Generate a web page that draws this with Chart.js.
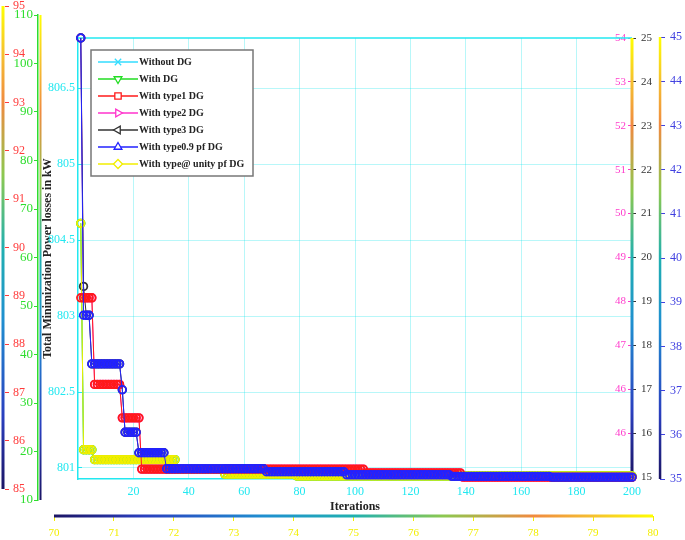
<!DOCTYPE html>
<html lang="en">
<head>
  <meta charset="UTF-8">
  <title>Total Minimization Power losses</title>
  <script src="https://cdn.jsdelivr.net/npm/chart.js"></script>
  <style>
    html, body {
      margin: 0;
      padding: 0;
      background: #fff;
    }
    #chart-box {
      width: 685px;
      height: 540px;
    }
  </style>
</head>
<body>
  <div id="chart-box">
    <canvas id="lossChart" width="685" height="540"></canvas>
  </div>

  <script>
    // ---- data ----
    // each run: [first iteration, loss in kW]; the value holds until the next run starts
    const lastIteration = 200;
    const seriesNames = ['Without DG', 'With DG', 'With type1 DG', 'With type2 DG',
      'With type3 DG', 'With type0.9 pf DG', 'With type@ unity pf DG'];

    const withoutDgRuns = [[1, 804.22], [2, 801.24], [6, 801.11], [36, 800.99], [53, 800.92], [79, 800.895]];
    const withDgRuns = [[1, 804.22], [2, 801.24], [6, 801.11], [36, 800.99], [53, 800.92], [79, 800.895]];
    const type1Runs = [[1, 803.24], [6, 802.10], [16, 801.66], [23, 800.985], [104, 800.935], [139, 800.88]];
    const type2Runs = [[1, 806.66], [2, 803.24], [6, 802.10], [16, 801.66], [23, 800.985], [104, 800.935], [139, 800.88]];
    const type3Runs = [[1, 806.66], [2, 803.39], [3, 803.01], [5, 802.37], [16, 802.03], [17, 801.47], [22, 801.20], [32, 800.99], [68, 800.95], [97, 800.91], [135, 800.89], [171, 800.88]];
    const pf09Runs = [[1, 806.66], [2, 803.01], [5, 802.37], [16, 802.03], [17, 801.47], [22, 801.20], [32, 800.99], [68, 800.95], [97, 800.91], [135, 800.89], [171, 800.88]];
    const unityRuns = [[1, 804.22], [2, 801.24], [6, 801.11], [36, 800.99], [53, 800.92], [79, 800.895]];

    // tick labels
    const iterTicks = [20, 40, 60, 80, 100, 120, 140, 160, 180, 200];
    const lossTickValues = [801, 802, 803, 804, 805, 806];
    const lossTickLabels = ['801', '802.5', '803', '804.5', '805', '806.5'];
    const magentaLabels = ['45', '46', '46', '47', '48', '49', '50', '51', '52', '53', '54'];

    // ---- styles ----
    Chart.defaults.font.family = '"Liberation Serif", "DejaVu Serif", serif';
    Chart.defaults.font.size = 12;

    const seriesColors = ['#33ddff', '#22dd22', '#ff1a1a', '#ff33cc', '#333333', '#2222ff', '#f2ee00'];
    const legendShapes = [
      { style: 'crossRot', rot: 0 },
      { style: 'triangle', rot: 180 },
      { style: 'rect', rot: 0 },
      { style: 'triangle', rot: 90 },
      { style: 'triangle', rot: -90 },
      { style: 'triangle', rot: 0 },
      { style: 'rectRot', rot: 0 }
    ];
    // z-order: lower draws on top (blue, then red, then yellow ...)
    const drawOrder = [6, 5, 1, 4, 3, 0, 2];

    const cyan = '#22e8f0';
    const gridCyan = 'rgba(0, 225, 235, 0.28)';
    const redText = '#ff3b3b';
    const greenText = '#2ede2e';
    const magentaText = '#ff3ccc';
    const blackText = '#333333';
    const blueText = '#4040e0';
    const yellowText = '#f2ee00';

    function expandRuns(runs) {
      const pts = [];
      for (let i = 0; i < runs.length; i++) {
        const end = i + 1 < runs.length ? runs[i + 1][0] : lastIteration + 1;
        for (let it = runs[i][0]; it < end; it++) {
          pts.push({ x: it, y: runs[i][1] });
        }
      }
      return pts;
    }

    const allRuns = [withoutDgRuns, withDgRuns, type1Runs, type2Runs, type3Runs, pf09Runs, unityRuns];

    const datasets = allRuns.map((runs, i) => ({
      label: seriesNames[i],
      data: expandRuns(runs),
      borderColor: seriesColors[i],
      backgroundColor: seriesColors[i],
      borderWidth: 1,
      pointStyle: 'circle',
      pointRadius: 3.8,
      pointBorderWidth: 1.8,
      pointBorderColor: seriesColors[i],
      pointBackgroundColor: 'rgba(0,0,0,0)',
      tension: 0,
      clip: false,
      order: drawOrder[i],
      xAxisID: 'x',
      yAxisID: 'y'
    }));

    // where the side axes sit (they are decorative scales with their own spans)
    const sideBoxes = {
      yRed: { left: 0, right: 5, top: 6, bottom: 489 },
      yGreen: { left: 5, right: 38, top: 15, bottom: 500 },
      yMag: { left: 600, right: 632, top: 38, bottom: 477 },
      yBlack: { left: 632, right: 660, top: 38, bottom: 477 },
      yBlue: { left: 660, right: 685, top: 37, bottom: 479 },
      xYellow: { left: 54, right: 653, top: 516, bottom: 540 }
    };

    const placeSideAxes = {
      id: 'placeSideAxes',
      afterLayout(chart) {
        Object.keys(sideBoxes).forEach(id => {
          const s = chart.scales[id];
          if (!s) return;
          Object.assign(s, sideBoxes[id]);
          s.width = s.right - s.left;
          s.height = s.bottom - s.top;
          s.configure();
        });
      }
    };

    function colorbarGradient(ctx, x0, y0, x1, y1) {
      // dark -> bright along (x0,y0) -> (x1,y1)
      const g = ctx.createLinearGradient(x0, y0, x1, y1);
      g.addColorStop(0, '#1b1464');
      g.addColorStop(0.15, '#2a3fbf');
      g.addColorStop(0.35, '#1f8fd0');
      g.addColorStop(0.5, '#20b0b0');
      g.addColorStop(0.65, '#8cc850');
      g.addColorStop(0.8, '#f08a40');
      g.addColorStop(0.9, '#f5c030');
      g.addColorStop(1, '#ffff00');
      return g;
    }

    const decorations = {
      id: 'decorations',
      beforeDatasetsDraw(chart) {
        const ctx = chart.ctx;
        const a = chart.chartArea;
        ctx.save();
        // top frame line
        ctx.strokeStyle = cyan;
        ctx.lineWidth = 1.5;
        ctx.beginPath();
        ctx.moveTo(a.left, a.top);
        ctx.lineTo(a.right, a.top);
        ctx.stroke();

        // colour-bar strips along the side axes
        const vStrip = (id, x, w) => {
          const s = chart.scales[id];
          ctx.fillStyle = colorbarGradient(ctx, 0, s.bottom, 0, s.top);
          ctx.fillRect(x, s.top, w, s.bottom - s.top);
        };
        vStrip('yRed', chart.scales.yRed.right - 3.5, 3);
        vStrip('yGreen', chart.scales.yGreen.right + 1.5, 2);
        vStrip('yBlack', chart.scales.yBlack.left - 1.5, 3);
        vStrip('yBlue', chart.scales.yBlue.left - 1.2, 2.5);

        const sx = chart.scales.xYellow;
        ctx.fillStyle = colorbarGradient(ctx, sx.left, 0, sx.right, 0);
        ctx.fillRect(sx.left, sx.top - 1.5, sx.right - sx.left, 3);
        ctx.restore();
      }
    };

    const boxLegend = {
      id: 'boxLegend',
      afterDraw(chart) {
        const ctx = chart.ctx;
        const a = chart.chartArea;
        const bx = a.left + 13, by = a.top + 12, bw = 162, bh = 126;
        ctx.save();
        ctx.fillStyle = '#ffffff';
        ctx.fillRect(bx, by, bw, bh);
        ctx.strokeStyle = '#777777';
        ctx.lineWidth = 1.5;
        ctx.strokeRect(bx, by, bw, bh);

        ctx.font = 'bold 10px "Liberation Serif", "DejaVu Serif", serif';
        ctx.textBaseline = 'middle';
        ctx.textAlign = 'left';
        seriesNames.forEach((name, i) => {
          const y = by + 12 + i * 17;
          ctx.strokeStyle = seriesColors[i];
          ctx.lineWidth = 1.3;
          ctx.beginPath();
          ctx.moveTo(bx + 7, y);
          ctx.lineTo(bx + 47, y);
          ctx.stroke();

          ctx.fillStyle = '#ffffff';
          ctx.strokeStyle = seriesColors[i];
          ctx.lineWidth = 1.3;
          if (Chart.helpers && Chart.helpers.drawPoint) {
            Chart.helpers.drawPoint(ctx, {
              pointStyle: legendShapes[i].style,
              rotation: legendShapes[i].rot,
              radius: 4.5,
              borderWidth: 1.3
            }, bx + 27, y);
          }

          ctx.fillStyle = '#222222';
          ctx.fillText(name, bx + 48, y);
        });
        ctx.restore();
      }
    };

    function sideAxis(color) {
      return {
        type: 'linear',
        axis: 'y',
        grid: { drawOnChartArea: false, color: color, tickLength: 4, lineWidth: 1 },
        border: { display: false },
        ticks: { color: color, font: { size: 12 }, autoSkip: false }
      };
    }

    const config = {
      type: 'line',
      data: { datasets: datasets },
      options: {
        responsive: false,
        animation: false,
        events: [],
        layout: { padding: { top: 38, left: 0, right: 0, bottom: 0 } },
        plugins: {
          legend: { display: false },
          tooltip: { enabled: false }
        },
        scales: {
          x: {
            type: 'linear',
            position: 'bottom',
            weight: 0,
            min: 0,
            max: lastIteration,
            afterBuildTicks: s => { s.ticks = iterTicks.map(v => ({ value: v })); },
            afterFit: s => { s.height = 36; },
            grid: { color: gridCyan, drawTicks: false },
            border: { color: cyan, width: 1.5 },
            ticks: { color: cyan, padding: 6, font: { size: 12 }, maxRotation: 0, autoSkip: false },
            title: {
              display: true,
              text: 'Iterations',
              color: '#222222',
              font: { size: 12, weight: 'bold' },
              padding: { top: 0, bottom: 1 }
            }
          },
          xYellow: {
            type: 'linear',
            axis: 'x',
            position: 'bottom',
            weight: 1,
            min: 70,
            max: 80,
            afterFit: s => { s.height = 25; },
            grid: { drawOnChartArea: false, color: yellowText, tickLength: 5 },
            border: { display: false },
            ticks: { color: yellowText, stepSize: 1, padding: 6, font: { size: 11 }, maxRotation: 0, autoSkip: false }
          },
          y: {
            type: 'linear',
            position: 'left',
            weight: 0,
            min: 800.855,
            max: 806.66,
            afterBuildTicks: s => { s.ticks = lossTickValues.map(v => ({ value: v })); },
            afterFit: s => { s.width = 40; },
            grid: { color: gridCyan, tickLength: -4, tickColor: cyan },
            border: { color: cyan, width: 1.5 },
            ticks: {
              color: cyan,
              padding: 7,
              font: { size: 12 },
              autoSkip: false,
              callback: (v, i) => lossTickLabels[i]
            },
            title: {
              display: true,
              text: 'Total Minimization Power losses in kW',
              color: '#222222',
              font: { size: 12, weight: 'bold' },
              padding: { top: 3, bottom: 0 }
            }
          },
          // magenta labels sit left of the right-hand colour bar; laid out as a
          // zero-width left axis and moved into place after layout
          yMag: Object.assign(sideAxis(magentaText), {
            position: 'left',
            weight: -1,
            min: 0,
            max: magentaLabels.length - 1,
            afterBuildTicks: s => { s.ticks = magentaLabels.map((_, i) => ({ value: i })); },
            afterFit: s => { s.width = 0; },
            grid: { drawOnChartArea: false, color: magentaText, tickLength: 4 },
            ticks: {
              color: magentaText,
              padding: 2,
              font: { size: 11 },
              autoSkip: false,
              callback: (v, i) => magentaLabels[i]
            }
          }),
          yGreen: Object.assign(sideAxis(greenText), {
            position: 'left',
            weight: 1,
            min: 10,
            max: 110,
            afterFit: s => { s.width = 33; },
            grid: { drawOnChartArea: false, color: greenText, tickLength: 4 },
            border: { display: true, color: greenText, width: 1.5 },
            ticks: { color: greenText, stepSize: 10, padding: 1, font: { size: 13 }, autoSkip: false }
          }),
          yRed: Object.assign(sideAxis(redText), {
            position: 'left',
            weight: 2,
            min: 85,
            max: 95,
            afterFit: s => { s.width = 5; },
            grid: { drawOnChartArea: false, color: redText, tickLength: -4 },
            ticks: { color: redText, stepSize: 1, mirror: true, padding: 8, font: { size: 12 }, autoSkip: false }
          }),
          yBlack: Object.assign(sideAxis(blackText), {
            position: 'right',
            weight: 1,
            min: 15,
            max: 25,
            afterFit: s => { s.width = 28; },
            grid: { drawOnChartArea: false, color: blackText, tickLength: 4 },
            ticks: { color: blackText, stepSize: 1, padding: 5, font: { size: 11 }, autoSkip: false }
          }),
          yBlue: Object.assign(sideAxis(blueText), {
            position: 'right',
            weight: 2,
            min: 35,
            max: 45,
            afterFit: s => { s.width = 25; },
            grid: { drawOnChartArea: false, color: blueText, tickLength: 5 },
            ticks: { color: blueText, stepSize: 1, padding: 5, font: { size: 12 }, autoSkip: false }
          })
        }
      },
      plugins: [placeSideAxes, decorations, boxLegend]
    };

    const ctx = document.getElementById('lossChart').getContext('2d');
    const lossChart = new Chart(ctx, config);
  </script>
</body>
</html>
